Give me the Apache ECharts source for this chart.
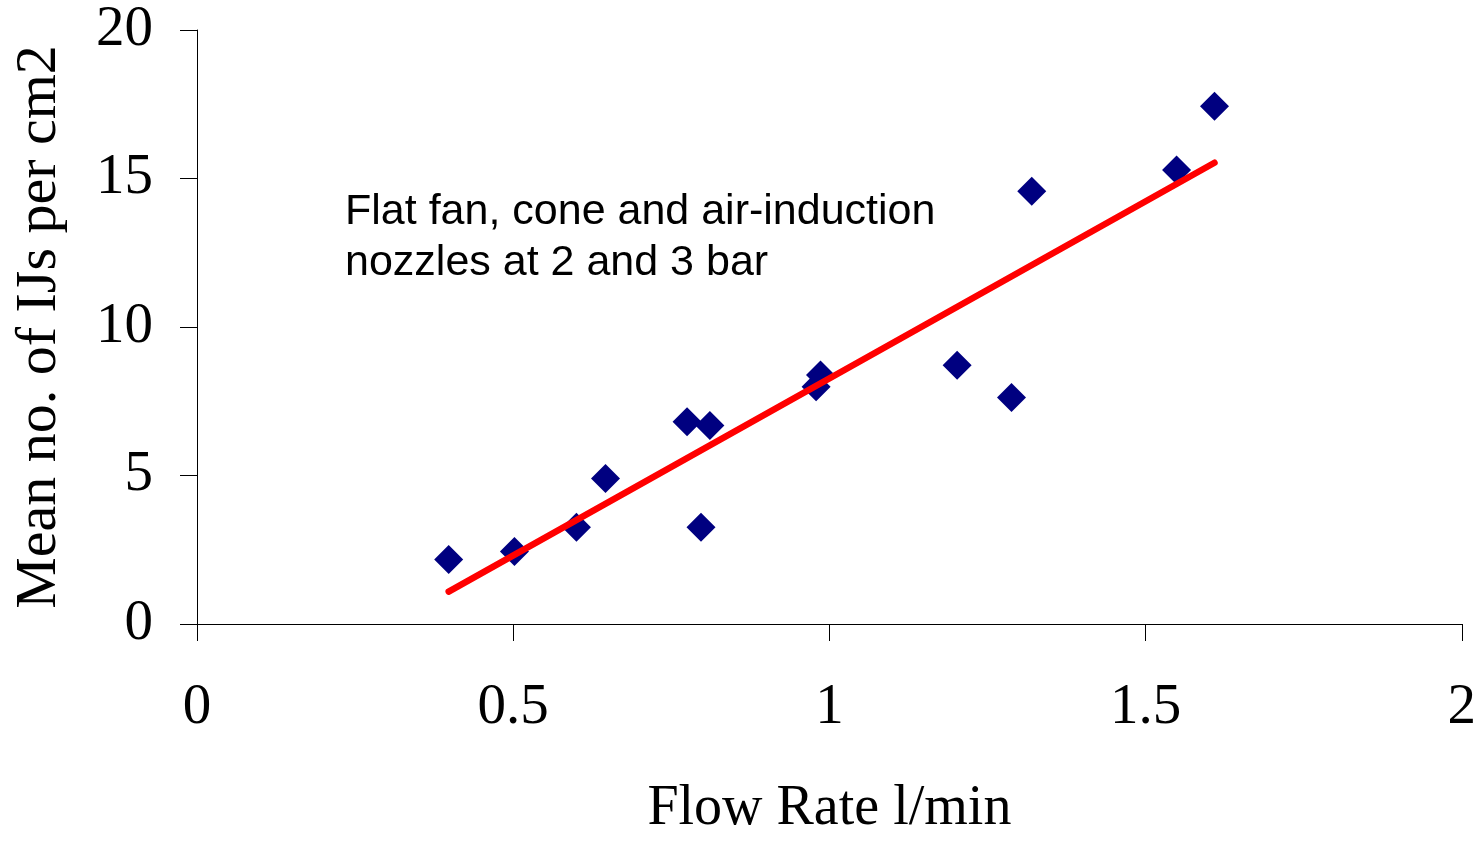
<!DOCTYPE html>
<html>
<head>
<meta charset="utf-8">
<title>Flow rate vs IJs</title>
<script src="https://cdn.jsdelivr.net/npm/echarts@6/dist/echarts.min.js"></script>
<style>
  html, body { margin: 0; padding: 0; background: #fff; overflow: hidden; }
  #chart { width: 1479px; height: 842px; }
</style>
</head>
<body>
<div id="chart"></div>
<script>
// measured points (flow rate l/min, mean IJs per cm2)
const flowRate = [0.398, 0.502, 0.600, 0.646, 0.775, 0.811, 0.797, 0.979, 0.986, 1.202, 1.288, 1.320, 1.549, 1.609]
const meanIJs = [2.17, 2.44, 3.26, 4.90, 6.81, 6.68, 3.26, 7.99, 8.38, 8.71, 7.63, 14.57, 15.29, 17.43]
// linear trend line end points
const trendX = [0.398, 1.609]
const trendY = [1.09, 15.53]
const xTicks = [0, 0.5, 1, 1.5, 2]
const yTicks = [0, 5, 10, 15, 20]

const chart = echarts.init(document.getElementById('chart'))
const serif = '"Liberation Serif", "Times New Roman", serif'

const option = {
  animation: false,
  backgroundColor: '#fff',
  // fixed plot box so the axes land where they do in the original
  grid: { left: 197, top: 30, width: 1267, height: 608, containLabel: false },
  xAxis: {
    type: 'value',
    min: xTicks[0],
    max: xTicks[xTicks.length - 1],
    interval: 0.5,
    name: 'Flow Rate l/min',
    nameLocation: 'middle',
    nameGap: 157,
    nameTextStyle: { color: '#000', fontFamily: serif, fontSize: 56 },
    axisLine: { lineStyle: { color: '#000', width: 1 } },
    axisTick: { inside: false, length: 17, lineStyle: { color: '#000' } },
    axisLabel: { color: '#000', fontFamily: serif, fontSize: 57, margin: 56 },
    splitLine: { show: false }
  },
  yAxis: {
    type: 'value',
    min: yTicks[0],
    max: yTicks[yTicks.length - 1],
    interval: 5,
    name: 'Mean no. of IJs per cm2',
    nameLocation: 'middle',
    nameGap: 128,
    nameRotate: 90,
    nameTextStyle: { color: '#000', fontFamily: serif, fontSize: 58 },
    axisLine: { show: true, lineStyle: { color: '#000', width: 1 } },
    axisTick: { show: true, inside: false, length: 17, lineStyle: { color: '#000' } },
    axisLabel: { color: '#000', fontFamily: serif, fontSize: 57, margin: 44 },
    splitLine: { show: false }
  },
  graphic: [{
    type: 'text',
    left: 345,
    top: 187,
    style: {
      text: 'Flat fan, cone and air-induction\nnozzles at 2 and 3 bar',
      fill: '#000',
      font: '43px "Liberation Sans", Arial, sans-serif',
      lineHeight: 51
    }
  }],
  series: [
    {
      type: 'line',
      data: trendX.map((x, i) => [x, trendY[i]]),
      showSymbol: false,
      symbol: 'none',
      lineStyle: { color: '#ff0000', width: 6.5, cap: 'round' },
      z: 3
    },
    {
      type: 'scatter',
      data: flowRate.map((x, i) => [x, meanIJs[i]]),
      symbol: 'diamond',
      symbolSize: [29, 29],
      itemStyle: { color: '#000080', opacity: 1 },
      z: 2
    }
  ]
}
chart.setOption(option)
</script>
</body>
</html>
